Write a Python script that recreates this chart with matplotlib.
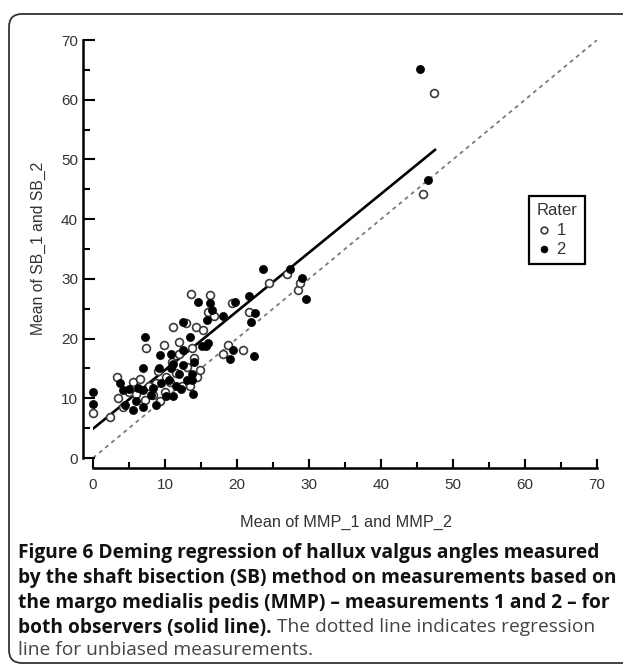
import matplotlib
matplotlib.use('Agg')
import matplotlib.pyplot as plt
from matplotlib.patches import FancyBboxPatch
from matplotlib.transforms import IdentityTransform

# ---------------- data ----------------
rater1_x = [0.0, 2.4, 3.3, 3.5, 4.2, 5.0, 5.6, 6.0, 6.5, 7.2, 7.3, 7.8, 8.3, 8.8, 9.0,
            9.3, 9.8, 10.0, 10.2, 10.7, 11.0, 11.1, 11.5, 11.9, 12.0, 12.3, 12.9, 13.0,
            13.5, 13.6, 13.8, 14.0, 14.3, 14.5, 14.8, 15.3, 16.0, 16.25, 16.8, 18.1,
            18.8, 19.3, 20.9, 21.6, 24.4, 27.0, 28.5, 28.8, 45.8, 47.4]
rater1_y = [7.6, 6.9, 13.6, 10.0, 8.6, 11.0, 12.8, 10.8, 13.3, 9.7, 18.5, 12.0, 10.5, 12.5, 14.5,
            9.5, 18.9, 11.0, 13.5, 12.8, 16.0, 22.0, 14.2, 19.5, 17.5, 12.0, 22.6, 15.2,
            12.1, 27.5, 18.5, 16.8, 22.0, 13.5, 14.8, 21.4, 24.5, 27.3, 23.8, 17.5,
            18.9, 25.9, 18.1, 24.5, 29.3, 30.8, 28.1, 29.3, 44.2, 61.1]
rater2_x = [0.0, 0.0, 3.7, 4.2, 4.5, 5.0, 5.6, 6.0, 6.2, 7.0, 7.0, 7.0, 7.2, 8.0, 8.4,
            8.8, 9.2, 9.3, 9.5, 10.2, 10.5, 10.8, 10.8, 11.1, 11.1, 11.5, 12.0, 12.2,
            12.5, 12.5, 12.5, 13.0, 13.5, 13.7, 13.7, 13.9, 14.0, 14.6, 15.1, 15.7,
            15.8, 16.0, 16.3, 16.5, 18.1, 19.0, 19.5, 19.7, 21.6, 22.0, 22.3, 22.5,
            23.65, 27.3, 29.0, 29.6, 45.4, 46.5]
rater2_y = [11.1, 9.0, 12.5, 11.4, 8.8, 11.6, 8.0, 9.5, 11.8, 11.4, 8.6, 15.0, 20.2, 10.5, 11.8,
            8.8, 15.0, 17.3, 12.5, 10.3, 13.0, 15.0, 17.5, 10.3, 15.8, 12.0, 14.0, 11.5,
            18.1, 22.7, 15.5, 13.0, 20.3, 13.1, 14.0, 10.8, 16.0, 26.2, 18.8, 18.8,
            23.1, 19.3, 26.0, 24.8, 23.7, 16.5, 18.1, 26.2, 27.2, 22.7, 17.1, 24.2,
            31.6, 31.6, 30.1, 26.6, 65.2, 46.6]
deming_x = [0.0, 47.5]
deming_y = [4.9, 51.6]
identity_xy = [0, 70]
major_ticks = [0, 10, 20, 30, 40, 50, 60, 70]
minor_ticks = [5, 15, 25, 35, 45, 55, 65]
legend_labels = ['1', '2']

caption_bold = ["Figure 6 Deming regression of hallux valgus angles measured",
                "by the shaft bisection (SB) method on measurements based on",
                "the margo medialis pedis (MMP) \u2013 measurements 1 and 2 \u2013 for",
                "both observers (solid line)."]
caption_regular = [" The dotted line indicates regression",
                   "line for unbiased measurements."]

W, H = 623, 665
fig = plt.figure(figsize=(W / 100, H / 100), dpi=100)

ax = fig.add_axes([93 / W, (H - 458) / H, 504 / W, 418 / H])
ax.set_xlim(0, 70)
ax.set_ylim(0, 70)

ax.plot(identity_xy, identity_xy, linestyle=(0, (2.2, 2.2)), color='#7a7a7a', lw=1.3, zorder=1)
ax.plot(deming_x, deming_y, color='black', lw=1.9, zorder=2)
h1 = ax.scatter(rater1_x, rater1_y, s=32, facecolors='white', edgecolors='#3a3a3a',
                linewidths=1.2, clip_on=False, zorder=3)
h2 = ax.scatter(rater2_x, rater2_y, s=34, facecolors='black', edgecolors='black',
                linewidths=0.5, clip_on=False, zorder=4)

for s in ['top', 'right']:
    ax.spines[s].set_visible(False)
for s in ['left', 'bottom']:
    ax.spines[s].set_position(('outward', 7.2))
    ax.spines[s].set_bounds(0, 70)
    ax.spines[s].set_linewidth(1.8)

ax.set_xticks(major_ticks)
ax.set_yticks(major_ticks)
ax.set_xticks(minor_ticks, minor=True)
ax.set_yticks(minor_ticks, minor=True)
ax.tick_params(axis='x', which='major', direction='in', length=6.5, width=1.5, pad=7)
ax.tick_params(axis='x', which='minor', direction='in', length=4.3, width=1.5)
ax.tick_params(axis='y', which='major', direction='in', length=8.6, width=1.5, pad=3.6)
ax.tick_params(axis='y', which='minor', direction='in', length=5.0, width=1.5)
for lab in ax.get_xticklabels() + ax.get_yticklabels():
    lab.set_fontfamily('Liberation Sans')
    lab.set_fontsize(11)
    lab.set_color('#333333')

fig.text(346 / W, 1 - 522 / H, 'Mean of MMP_1 and MMP_2', ha='center', va='center',
         fontsize=11.7, family='Liberation Sans', color='#333333')
fig.text(38 / W, 1 - 248 / H, 'Mean of SB_1 and SB_2', ha='center', va='center',
         rotation=90, fontsize=11.3, family='Liberation Sans', color='#333333')

leg = ax.legend([h1, h2], legend_labels, title='Rater', loc='upper left',
                bbox_to_anchor=(0.865, 0.627), frameon=True, fancybox=False,
                edgecolor='black', framealpha=1, borderpad=0.45, handletextpad=0.3,
                handlelength=0.9, labelspacing=0.25, markerscale=0.85,
                prop={'family': 'Liberation Sans', 'size': 12},
                title_fontproperties={'family': 'Liberation Sans', 'size': 12},
                alignment='left', borderaxespad=0)
leg.get_frame().set_linewidth(1.6)
for t in leg.get_texts():
    t.set_color('#333333')
leg.get_title().set_color('#333333')

# rounded frame around the whole figure
frame = FancyBboxPatch((9, 2), 650, H - 14 - 2, boxstyle='round,pad=0,rounding_size=13',
                       transform=IdentityTransform(), fill=False, lw=1.3, ec='#333333')
fig.add_artist(frame)

# caption
fam = 'Open Sans'
renderer = fig.canvas.get_renderer()
probe = fig.text(0, 0, caption_bold[1], fontsize=10, family=fam, weight='bold')
wpx = probe.get_window_extent(renderer).width
probe.remove()
fs = 10 * 598 / wpx

x0 = 18
baselines = [558, 583, 608, 632.5, 655]
for i, line in enumerate(caption_bold):
    t = fig.text(x0 / W, 1 - baselines[i] / H, line, fontsize=fs, family=fam,
                 weight='bold', color='#111111', va='baseline')
    if i == 3:
        ext = t.get_window_extent(renderer)
        fig.text(ext.x1 / W, 1 - baselines[i] / H, caption_regular[0], fontsize=fs,
                 family=fam, color='#444444', va='baseline')
fig.text(x0 / W, 1 - baselines[4] / H, caption_regular[1], fontsize=fs, family=fam,
         color='#444444', va='baseline')

fig.savefig('out.png', dpi=100)
